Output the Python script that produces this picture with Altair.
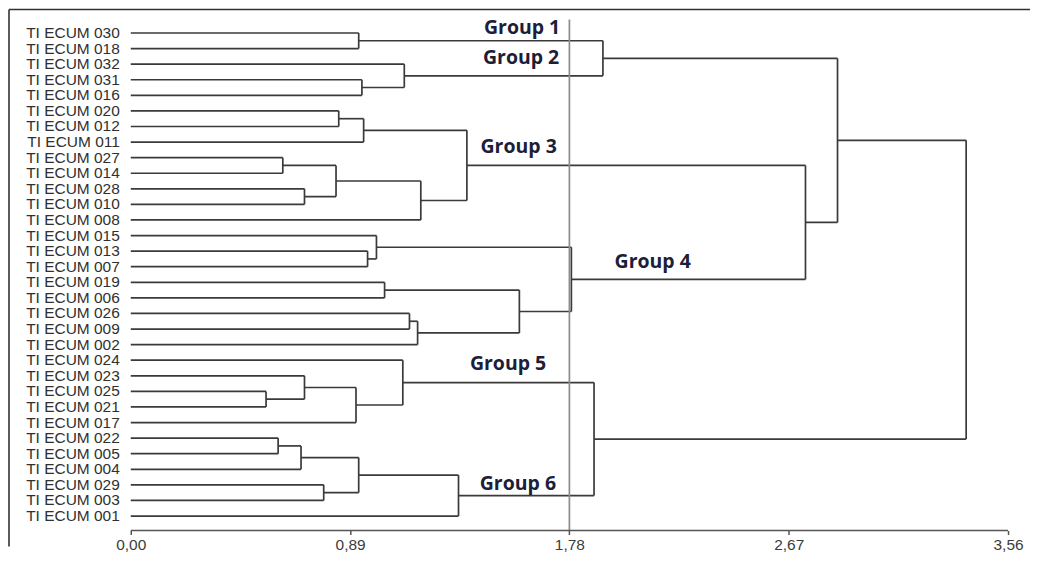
import altair as alt
import pandas as pd

# ---------------- data ----------------
leaves = [
    "TI ECUM 030", "TI ECUM 018", "TI ECUM 032", "TI ECUM 031", "TI ECUM 016",
    "TI ECUM 020", "TI ECUM 012", "TI ECUM 011", "TI ECUM 027", "TI ECUM 014",
    "TI ECUM 028", "TI ECUM 010", "TI ECUM 008", "TI ECUM 015", "TI ECUM 013",
    "TI ECUM 007", "TI ECUM 019", "TI ECUM 006", "TI ECUM 026", "TI ECUM 009",
    "TI ECUM 002", "TI ECUM 024", "TI ECUM 023", "TI ECUM 025", "TI ECUM 021",
    "TI ECUM 017", "TI ECUM 022", "TI ECUM 005", "TI ECUM 004", "TI ECUM 029",
    "TI ECUM 003", "TI ECUM 001",
]

# merges: ids 0..31 are leaves (display order); id 32+k is the k-th merge
merge_a = [0, 3, 2, 32, 5, 36, 8, 10, 38, 40, 37, 14, 13, 16, 18, 46, 45, 44, 42, 35,
           23, 22, 53, 21, 26, 56, 29, 57, 59, 55, 51]
merge_b = [1, 4, 33, 34, 6, 7, 9, 11, 39, 12, 41, 15, 43, 17, 19, 20, 47, 48, 49, 50,
           24, 52, 25, 54, 27, 28, 30, 58, 31, 60, 61]
merge_h = [0.925, 0.938, 1.11, 1.916, 0.844, 0.945, 0.617, 0.705, 0.833, 1.177, 1.364,
           0.961, 0.997, 1.03, 1.131, 1.164, 1.577, 1.788, 2.738, 2.868,
           0.549, 0.705, 0.914, 1.104, 0.598, 0.691, 0.783, 0.925, 1.33, 1.88, 3.39]

group_names = ["Group 1", "Group 2", "Group 3", "Group 4", "Group 5", "Group 6"]
group_x = [1.588, 1.584, 1.574, 2.118, 1.531, 1.571]
group_y = [-0.29, 1.63, 7.33, 14.70, 21.23, 28.92]

tick_values = [0.00, 0.89, 1.78, 2.67, 3.56]
cutoff = 1.78
cutoff_top = -0.86

# ---------------- build segments ----------------
pos = {i: (0.0, float(i)) for i in range(len(leaves))}
segs = []
for k, (a, b, h) in enumerate(zip(merge_a, merge_b, merge_h)):
    xa, ya = pos[a]
    xb, yb = pos[b]
    segs.append({"x": xa, "x2": h, "y": ya, "y2": ya})
    segs.append({"x": xb, "x2": h, "y": yb, "y2": yb})
    segs.append({"x": h, "x2": h, "y": ya, "y2": yb})
    pos[len(leaves) + k] = (h, (ya + yb) / 2)
seg_df = pd.DataFrame(segs)

leaf_df = pd.DataFrame({"name": leaves, "idx": [float(i) for i in range(len(leaves))], "x0": 0.0})
grp_df = pd.DataFrame({"name": group_names, "x": group_x, "y": group_y})

XMIN, XMAX = -0.4941, 3.6491
YMIN, YMAX = -1.5052, 31.929
YFRAME = 32.95

xs = alt.Scale(domain=[XMIN, XMAX], nice=False, zero=False)
ys = alt.Scale(domain=[YMIN, YMAX], nice=False, zero=False, reverse=True)

LINE = "#3a3a3a"

xaxis = alt.Axis(
    values=tick_values, grid=False, domain=False, ticks=True, tickSize=4,
    tickColor="#555555", tickWidth=1.5, labelPadding=3, format=".2f",
    labelFont="Liberation Sans", labelFontSize=15.5, labelColor="#3c3c3c",
    labelExpr="replace(datum.label, '.', ',')", title=None,
)

dendro = alt.Chart(seg_df).mark_rule(color=LINE, strokeWidth=1.7).encode(
    x=alt.X("x:Q", scale=xs, axis=xaxis),
    x2="x2:Q",
    y=alt.Y("y:Q", scale=ys, axis=None),
    y2="y2:Q",
)

cut_df = pd.DataFrame({"x": [cutoff], "y": [cutoff_top], "y2": [YMAX]})
cut = alt.Chart(cut_df).mark_rule(color="#8c8c8c", strokeWidth=1.7).encode(
    x=alt.X("x:Q", scale=xs), y=alt.Y("y:Q", scale=ys), y2="y2:Q"
)

axis_df = pd.DataFrame({"x": [tick_values[0]], "x2": [tick_values[-1]], "y": [YMAX]})
axis_line = alt.Chart(axis_df).mark_rule(color="#555555", strokeWidth=1.7).encode(
    x=alt.X("x:Q", scale=xs), x2="x2:Q", y=alt.Y("y:Q", scale=ys)
)

frame_df = pd.DataFrame({
    "x": [XMIN, XMIN], "x2": [XMAX, XMIN], "y": [YMIN, YMIN], "y2": [YMIN, YFRAME]
})
frame = alt.Chart(frame_df).mark_rule(color="#333333", strokeWidth=1.6).encode(
    x=alt.X("x:Q", scale=xs), x2="x2:Q", y=alt.Y("y:Q", scale=ys), y2="y2:Q"
)

labels = alt.Chart(leaf_df).mark_text(
    align="right", baseline="middle", dx=-11, font="Liberation Sans", fontSize=15.5,
    color="#303030"
).encode(x=alt.X("x0:Q", scale=xs), y=alt.Y("idx:Q", scale=ys), text="name:N")

groups = alt.Chart(grp_df).mark_text(
    align="center", baseline="middle", font="Open Sans", fontWeight="bold",
    fontSize=19.5, color="#1b2038"
).encode(x=alt.X("x:Q", scale=xs), y=alt.Y("y:Q", scale=ys), text="name:N")

chart = alt.layer(dendro, frame, cut, axis_line, labels, groups).properties(
    width=1023, height=522, padding=0, background="white"
).configure_view(stroke=None)

chart.save("out.html", embed_options={"renderer": "svg", "actions": False})
